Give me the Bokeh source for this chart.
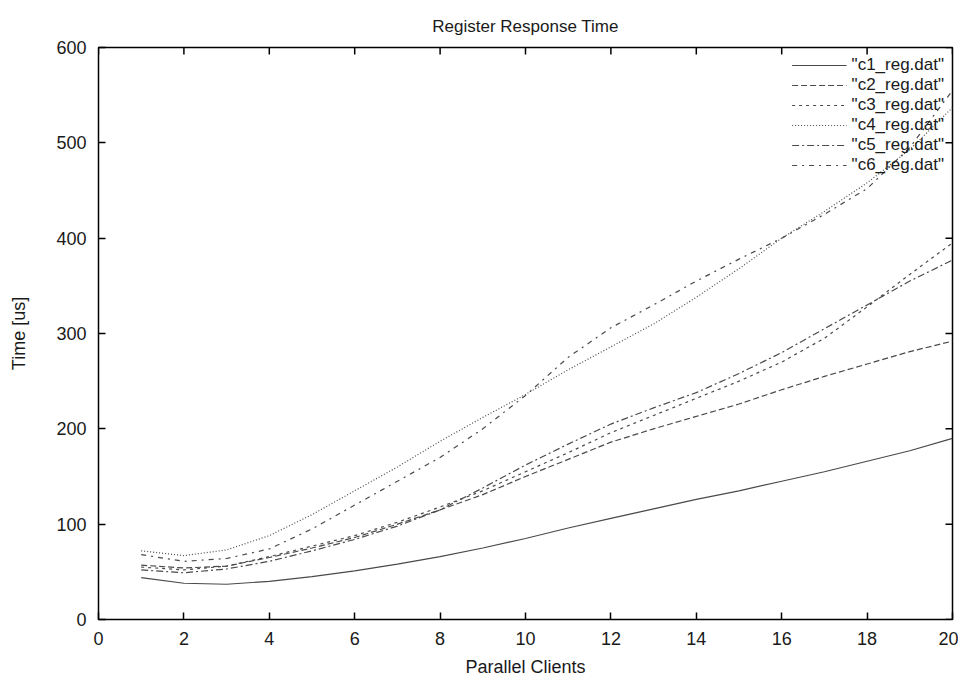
import math
from bokeh.plotting import figure
from bokeh.models import Range1d, FixedTicker, Legend, LegendItem
from bokeh.embed import file_html
from bokeh.resources import INLINE

clients = list(range(1, 21))
c1 = [44, 38, 37, 40, 45, 51, 58, 66, 75, 85, 96, 106, 116, 126, 135, 145, 155, 166, 177, 190]
c2 = [57, 54, 56, 65, 75, 86, 100, 115, 131, 150, 168, 186, 200, 213, 226, 241, 255, 268, 281, 292]
c3 = [55, 52, 56, 66, 77, 88, 102, 118, 135, 155, 175, 196, 214, 232, 250, 270, 295, 328, 362, 395]
c4 = [72, 67, 73, 88, 110, 135, 160, 187, 212, 236, 262, 286, 310, 338, 368, 400, 428, 458, 493, 537]
c5 = [52, 49, 53, 61, 72, 84, 98, 115, 138, 162, 184, 205, 222, 238, 258, 280, 305, 330, 355, 377]
c6 = [68, 61, 64, 74, 95, 120, 145, 170, 200, 235, 275, 306, 330, 355, 378, 400, 425, 452, 495, 555]

series = [
    ('"c1_reg.dat"', c1, "solid"),
    ('"c2_reg.dat"', c2, "6 3"),
    ('"c3_reg.dat"', c3, "3 4"),
    ('"c4_reg.dat"', c4, "1 2"),
    ('"c5_reg.dat"', c5, "7 3 2 3"),
    ('"c6_reg.dat"', c6, "5 5 2 5"),
]

x_min, x_max = 0, 20
y_min, y_max = 0, 600
x_ticks = list(range(0, 21, 2))
y_ticks = list(range(0, 601, 100))

FONT = "Liberation Sans"
TXT = "#1a1a1a"

p = figure(width=958, height=679, output_backend="svg", toolbar_location=None,
           x_range=Range1d(x_min, x_max), y_range=Range1d(y_min, y_max),
           title="Register Response Time",
           min_border_left=98, min_border_right=6, min_border_top=47, min_border_bottom=57)

p.title.align = "center"
p.title.vertical_align = "top"
p.title.text_font = FONT
p.title.text_font_size = "17px"
p.title.text_font_style = "normal"
p.title.text_color = TXT
p.title.standoff = 20

p.xgrid.visible = False
p.ygrid.visible = False
p.outline_line_color = "black"
p.outline_line_width = 1.5
p.outline_line_alpha = 1

for ax, ticks in ((p.xaxis[0], x_ticks), (p.yaxis[0], y_ticks)):
    ax.ticker = FixedTicker(ticks=ticks)
    ax.major_tick_in = 7
    ax.major_tick_out = 0
    ax.major_tick_line_width = 1.5
    ax.minor_tick_line_color = None
    ax.axis_line_color = None
    ax.major_label_text_font = FONT
    ax.major_label_text_font_size = "18px"
    ax.major_label_text_color = TXT
    ax.axis_label_text_font = FONT
    ax.axis_label_text_font_size = "18px"
    ax.axis_label_text_font_style = "normal"
    ax.axis_label_text_color = TXT

p.xaxis.axis_label = "Parallel Clients"
p.yaxis.axis_label = "Time [us]"
p.xaxis.major_label_standoff = 12
p.xaxis.axis_label_standoff = 9
p.yaxis.major_label_standoff = 12
p.yaxis.axis_label_standoff = 24

# mirrored inward ticks on the top and right borders (clipped to the frame)
p.scatter(x_ticks, [y_max] * len(x_ticks), marker="dash", size=14, angle=math.pi / 2,
          line_color="black", line_width=1.5)
p.scatter([x_max] * len(y_ticks), y_ticks, marker="dash", size=14,
          line_color="black", line_width=1.5)

items = []
for name, ys, dash in series:
    r = p.line(clients, ys, line_color="#4a4a4a", line_width=1.2, line_dash=dash)
    items.append(LegendItem(label=name, renderers=[r]))

legend = Legend(items=items, location="top_right")
legend.border_line_color = None
legend.background_fill_alpha = 0
legend.label_text_font = FONT
legend.label_text_font_size = "17px"
legend.label_text_color = TXT
legend.label_height = 14
legend.glyph_height = 14
legend.glyph_width = 55
legend.spacing = 0
legend.padding = 2
legend.margin = 8
p.add_layout(legend)

open("out.html", "w").write(file_html(p, INLINE))
